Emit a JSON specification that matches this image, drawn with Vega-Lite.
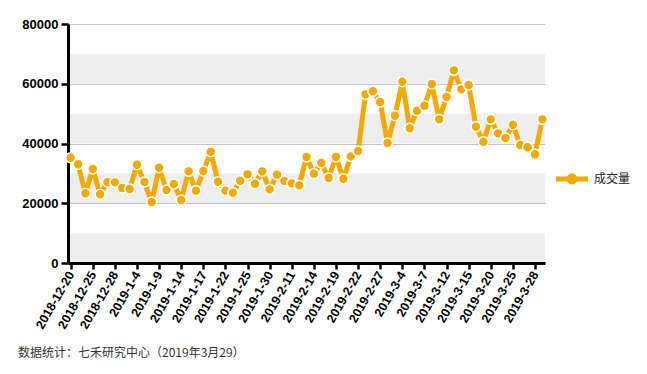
{
  "$schema": "https://vega.github.io/schema/vega-lite/v6.json",
  "width": 477,
  "height": 239,
  "autosize": {"type": "none"},
  "padding": {"left": 68, "top": 24, "right": 102, "bottom": 111},
  "background": "white",
  "config": {"view": {"stroke": null}},
  "title": {
    "text": "数据统计：七禾研究中心（2019年3月29）",
    "orient": "bottom",
    "anchor": "start",
    "frame": "group",
    "font": "Noto Sans CJK SC",
    "fontSize": 12,
    "fontWeight": "normal",
    "color": "#333333",
    "dx": -50,
    "offset": 17
  },
  "datasets": {
    "bands": [
      {"lo": 0, "hi": 10000},
      {"lo": 20000, "hi": 30000},
      {"lo": 40000, "hi": 50000},
      {"lo": 60000, "hi": 70000}
    ],
    "vol": [
      {"date": "2018-12-20", "v": 35250},
      {"date": "2018-12-21", "v": 33030},
      {"date": "2018-12-24", "v": 23330},
      {"date": "2018-12-25", "v": 31460},
      {"date": "2018-12-26", "v": 22990},
      {"date": "2018-12-27", "v": 27110},
      {"date": "2018-12-28", "v": 27000},
      {"date": "2019-1-2", "v": 25100},
      {"date": "2019-1-3", "v": 24770},
      {"date": "2019-1-4", "v": 32900},
      {"date": "2019-1-7", "v": 27110},
      {"date": "2019-1-8", "v": 20420},
      {"date": "2019-1-9", "v": 31900},
      {"date": "2019-1-10", "v": 24430},
      {"date": "2019-1-11", "v": 26440},
      {"date": "2019-1-14", "v": 21090},
      {"date": "2019-1-15", "v": 30680},
      {"date": "2019-1-16", "v": 24210},
      {"date": "2019-1-17", "v": 30790},
      {"date": "2019-1-18", "v": 37260},
      {"date": "2019-1-21", "v": 27220},
      {"date": "2019-1-22", "v": 24210},
      {"date": "2019-1-23", "v": 23540},
      {"date": "2019-1-24", "v": 27550},
      {"date": "2019-1-25", "v": 29680},
      {"date": "2019-1-28", "v": 26550},
      {"date": "2019-1-29", "v": 30680},
      {"date": "2019-1-30", "v": 24660},
      {"date": "2019-1-31", "v": 29570},
      {"date": "2019-2-1", "v": 27440},
      {"date": "2019-2-11", "v": 26660},
      {"date": "2019-2-12", "v": 26000},
      {"date": "2019-2-13", "v": 35480},
      {"date": "2019-2-14", "v": 29900},
      {"date": "2019-2-15", "v": 33470},
      {"date": "2019-2-18", "v": 28450},
      {"date": "2019-2-19", "v": 35480},
      {"date": "2019-2-20", "v": 28220},
      {"date": "2019-2-21", "v": 35700},
      {"date": "2019-2-22", "v": 37490},
      {"date": "2019-2-25", "v": 56460},
      {"date": "2019-2-26", "v": 57470},
      {"date": "2019-2-27", "v": 53890},
      {"date": "2019-2-28", "v": 40160},
      {"date": "2019-3-1", "v": 49300},
      {"date": "2019-3-4", "v": 60680},
      {"date": "2019-3-5", "v": 45080},
      {"date": "2019-3-6", "v": 50980},
      {"date": "2019-3-7", "v": 52650},
      {"date": "2019-3-8", "v": 59910},
      {"date": "2019-3-11", "v": 48090},
      {"date": "2019-3-12", "v": 55560},
      {"date": "2019-3-13", "v": 64490},
      {"date": "2019-3-14", "v": 58130},
      {"date": "2019-3-15", "v": 59570},
      {"date": "2019-3-18", "v": 45630},
      {"date": "2019-3-19", "v": 40610},
      {"date": "2019-3-20", "v": 48090},
      {"date": "2019-3-21", "v": 43400},
      {"date": "2019-3-22", "v": 41840},
      {"date": "2019-3-25", "v": 46300},
      {"date": "2019-3-26", "v": 39500},
      {"date": "2019-3-27", "v": 38720},
      {"date": "2019-3-28", "v": 36380},
      {"date": "2019-3-29", "v": 48090}
    ]
  },
  "layer": [
    {
      "data": {"name": "bands"},
      "mark": {"type": "rect", "fill": "#000000", "fillOpacity": 0.065},
      "encoding": {
        "y": {
          "field": "lo",
          "type": "quantitative",
          "scale": {"domain": [0, 80000], "nice": false},
          "axis": {
            "title": null,
            "values": [0, 10000, 20000, 30000, 40000, 50000, 60000, 70000, 80000],
            "labelExpr": "datum.value % 20000 === 0 ? datum.value : ''",
            "labelFont": "Liberation Sans",
            "labelFontSize": 13,
            "labelFontWeight": "bold",
            "labelColor": "#000000",
            "labelPadding": 3,
            "tickSize": 7,
            "tickWidth": 2.5,
            "tickColor": "#000000",
            "tickOpacity": {"condition": {"test": "datum.value % 20000 === 0", "value": 1}, "value": 0},
            "domainColor": "#000000",
            "domainWidth": 3,
            "grid": true,
            "gridColor": "#c4c4c4",
            "gridWidth": 1.2
          }
        },
        "y2": {"field": "hi"}
      }
    },
    {
      "data": {"name": "vol"},
      "layer": [
        {
          "mark": {"type": "line", "color": "#F4A900", "strokeWidth": 5, "strokeJoin": "round"},
          "encoding": {
            "x": {
              "field": "date",
              "type": "ordinal",
              "sort": null,
              "scale": {"type": "point", "padding": 0.36},
              "axis": {
                "title": null,
                "values": ["2018-12-20", "2018-12-25", "2018-12-28", "2019-1-4", "2019-1-9", "2019-1-14", "2019-1-17", "2019-1-22", "2019-1-25", "2019-1-30", "2019-2-11", "2019-2-14", "2019-2-19", "2019-2-22", "2019-2-27", "2019-3-4", "2019-3-7", "2019-3-12", "2019-3-15", "2019-3-20", "2019-3-25", "2019-3-28"],
                "labelAngle": -60,
                "labelFont": "Liberation Sans",
                "labelFontSize": 12.5,
                "labelFontWeight": "bold",
                "labelColor": "#000000",
                "labelPadding": 3,
                "tickSize": 6,
                "tickWidth": 2.5,
                "tickColor": "#000000",
                "domainColor": "#000000",
                "domainWidth": 3,
                "grid": false
              }
            },
            "y": {"field": "v", "type": "quantitative"}
          }
        },
        {
          "mark": {"type": "point", "filled": true, "size": 100, "stroke": "white", "strokeWidth": 1.6, "opacity": 1},
          "encoding": {
            "x": {"field": "date", "type": "ordinal", "sort": null},
            "y": {"field": "v", "type": "quantitative"},
            "fill": {
              "datum": "成交量",
              "type": "nominal",
              "scale": {"range": ["#F4A900"]},
              "legend": {
                "title": null,
                "orient": "none",
                "legendX": 488,
                "legendY": 139,
                "symbolType": "M-1,-0.16H1V0.16H-1Z M0.34,0A0.34,0.34 0 1 1 -0.34,0A0.34,0.34 0 1 1 0.34,0Z",
                "symbolSize": 1024,
                "symbolStrokeWidth": 0,
                "symbolFillColor": "#F4A900",
                "labelFont": "Noto Sans CJK SC",
                "labelFontSize": 12,
                "labelColor": "#222222",
                "labelOffset": 6
              }
            }
          }
        }
      ]
    }
  ]
}
